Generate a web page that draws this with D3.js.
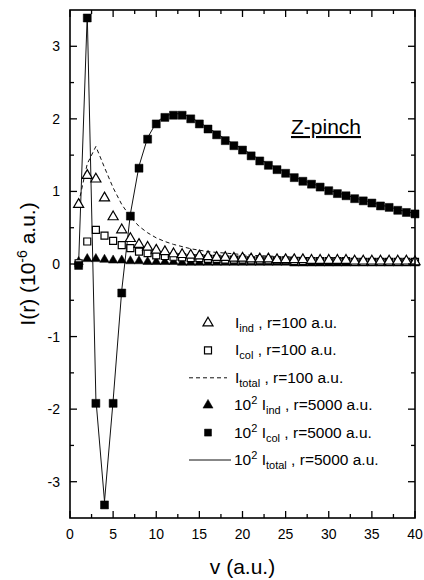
<!DOCTYPE html>
<html>
<head>
<meta charset="utf-8">
<script src="https://cdn.jsdelivr.net/npm/d3@7"></script>
<style>
  body { margin: 0; background: #fff; }
  svg { font-family: "Liberation Sans", Arial, sans-serif; }
</style>
</head>
<body>
<svg id="chart"></svg>
<script>
const W = 424
const H = 580

// v values (a.u.) for every series
const vValues = d3.range(1, 41)

// r = 100 a.u. (10^-6 a.u.)
const ind100 = [0.82, 1.22, 1.17, 0.91, 0.65, 0.47, 0.35, 0.27, 0.23, 0.19,
    0.17, 0.14, 0.13, 0.12, 0.11, 0.10, 0.09, 0.09, 0.08, 0.08,
    0.07, 0.07, 0.07, 0.06, 0.06, 0.06, 0.06, 0.05, 0.05, 0.05,
    0.05, 0.05, 0.04, 0.04, 0.04, 0.04, 0.04, 0.04, 0.04, 0.03]
const col100 = [0.01, 0.31, 0.47, 0.39, 0.32, 0.26, 0.22, 0.17, 0.15, 0.12,
    0.11, 0.10, 0.09, 0.08, 0.08, 0.07, 0.07, 0.06, 0.06, 0.06,
    0.05, 0.05, 0.05, 0.05, 0.05, 0.04, 0.04, 0.04, 0.04, 0.04,
    0.04, 0.04, 0.03, 0.03, 0.03, 0.03, 0.03, 0.03, 0.03, 0.03]
const total100 = [0.84, 1.38, 1.62, 1.33, 1.05, 0.82, 0.65, 0.52, 0.43, 0.36,
    0.31, 0.27, 0.24, 0.21, 0.19, 0.17, 0.16, 0.15, 0.14, 0.13,
    0.12, 0.115, 0.11, 0.105, 0.10, 0.095, 0.09, 0.088, 0.085, 0.082,
    0.08, 0.078, 0.075, 0.072, 0.07, 0.068, 0.066, 0.064, 0.062, 0.06]

// r = 5000 a.u., multiplied by 10^2
const ind5000 = [0.03, 0.07, 0.07, 0.06, 0.05, 0.05, 0.04, 0.04, 0.03, 0.03,
    0.03, 0.03, 0.02, 0.02, 0.02, 0.02, 0.02, 0.02, 0.02, 0.02,
    0.02, 0.02, 0.02, 0.02, 0.02, 0.01, 0.01, 0.01, 0.01, 0.01,
    0.01, 0.01, 0.01, 0.01, 0.01, 0.01, 0.01, 0.01, 0.01, 0.01]
const col5000 = [-0.02, 3.39, -1.92, -3.32, -1.92, -0.40, 0.66, 1.32, 1.72, 1.93,
    2.02, 2.05, 2.05, 2.00, 1.93, 1.86, 1.78, 1.70, 1.63, 1.57,
    1.49, 1.42, 1.36, 1.30, 1.25, 1.19, 1.14, 1.10, 1.06, 1.01,
    0.97, 0.94, 0.90, 0.87, 0.84, 0.80, 0.78, 0.74, 0.71, 0.69]
const total5000 = [0.01, 3.44, -1.86, -3.27, -1.88, -0.36, 0.69, 1.35, 1.74, 1.95,
    2.04, 2.07, 2.07, 2.02, 1.95, 1.88, 1.80, 1.72, 1.65, 1.59,
    1.51, 1.44, 1.38, 1.32, 1.27, 1.20, 1.15, 1.11, 1.07, 1.02,
    0.98, 0.95, 0.91, 0.88, 0.85, 0.81, 0.79, 0.75, 0.72, 0.70]

const xTicks = [0, 5, 10, 15, 20, 25, 30, 35, 40]
const yTicks = [-3, -2, -1, 0, 1, 2, 3]

// legend rows: prefix, subscript, suffix, symbol
const legendPrefix = ["", "", "", "10", "10", "10"]
const legendSub = ["ind", "col", "total", "ind", "col", "total"]
const legendSuffix = [" , r=100 a.u.", " , r=100 a.u.", " , r=100 a.u.",
    " , r=5000 a.u.", " , r=5000 a.u.", " , r=5000 a.u."]
const legendSymbol = ["openTri", "openSq", "dash", "fillTri", "fillSq", "solid"]

const margin = { left: 70, right: 9, top: 10, bottom: 62 }

const svg = d3.select('#chart')
    .attr('width', W)
    .attr('height', H)

const x = d3.scaleLinear()
    .domain([0, 40])
    .range([margin.left, W - margin.right])

const y = d3.scaleLinear()
    .domain([-3.5, 3.5])
    .range([H - margin.bottom, margin.top])

const plot = svg.append('g')

// series
const line = d3.line()
    .x(d => x(d[0]))
    .y(d => y(d[1]))

const pairs = arr => vValues.map((v, i) => [v, arr[i]])

plot.append('path')
    .datum(pairs(total100))
    .attr('d', line)
    .attr('fill', 'none')
    .attr('stroke', '#111')
    .attr('stroke-width', 1)
    .attr('stroke-dasharray', '4,3')

plot.append('path')
    .datum(pairs(total5000))
    .attr('d', line)
    .attr('fill', 'none')
    .attr('stroke', '#111')
    .attr('stroke-width', 1)

const triUp = d3.symbol().type(d3.symbolTriangle)
const sq = d3.symbol().type(d3.symbolSquare)

const drawMarkers = (arr, shape, size, filled) => {
    plot.append('g')
        .selectAll('path')
        .data(pairs(arr))
        .join('path')
        .attr('transform', d => `translate(${x(d[0])},${y(d[1])})`)
        .attr('d', shape.size(size)())
        .attr('fill', filled ? '#000' : '#fff')
        .attr('stroke', '#000')
        .attr('stroke-width', filled ? 0.5 : 1.2)
}

drawMarkers(ind5000, triUp, 38, true)
drawMarkers(col100, sq, 49, false)
drawMarkers(ind100, triUp, 44, false)
drawMarkers(col5000, sq, 64, true)

// frame + ticks (inward, all four sides)
const x0 = margin.left, x1 = W - margin.right
const yT = margin.top, yB = H - margin.bottom

const frame = svg.append('g')
frame.append('rect')
    .attr('x', x0).attr('y', yT)
    .attr('width', x1 - x0).attr('height', yB - yT)
    .attr('fill', 'none')
    .attr('stroke', '#000')
    .attr('stroke-width', 1.6)

const xMinor = d3.range(2.5, 40, 5)
const yMinor = d3.range(-2.5, 3.5, 1)

const tick = (ax, ay, bx, by) => frame.append('line')
    .attr('x1', ax).attr('y1', ay).attr('x2', bx).attr('y2', by)
    .attr('stroke', '#000').attr('stroke-width', 1.3)

xTicks.forEach(v => { tick(x(v), yB, x(v), yB - 7); tick(x(v), yT, x(v), yT + 7) })
xMinor.forEach(v => { tick(x(v), yB, x(v), yB - 4); tick(x(v), yT, x(v), yT + 4) })
yTicks.forEach(v => { tick(x0, y(v), x0 + 7, y(v)); tick(x1, y(v), x1 - 7, y(v)) })
yMinor.forEach(v => { tick(x0, y(v), x0 + 4, y(v)); tick(x1, y(v), x1 - 4, y(v)) })

// tick labels
svg.append('g')
    .selectAll('text')
    .data(xTicks)
    .join('text')
    .attr('x', d => x(d))
    .attr('y', yB + 21)
    .attr('text-anchor', 'middle')
    .attr('font-size', 14)
    .text(d => d)

svg.append('g')
    .selectAll('text')
    .data(yTicks)
    .join('text')
    .attr('x', x0 - 10)
    .attr('y', d => y(d) + 5)
    .attr('text-anchor', 'end')
    .attr('font-size', 14)
    .text(d => d)

// axis titles
svg.append('text')
    .attr('x', (x0 + x1) / 2)
    .attr('y', 574)
    .attr('text-anchor', 'middle')
    .attr('font-size', 21)
    .text('v (a.u.)')

const yTitle = svg.append('text')
    .attr('transform', `translate(35,${(yT + yB) / 2}) rotate(-90)`)
    .attr('text-anchor', 'middle')
    .attr('font-size', 21)
yTitle.append('tspan').text('I(r) (10')
yTitle.append('tspan').attr('font-size', 14).attr('dy', -8).text('-6')
yTitle.append('tspan').attr('dy', 8).text(' a.u.)')

// Z-pinch label
svg.append('text')
    .attr('x', 326)
    .attr('y', 134)
    .attr('text-anchor', 'middle')
    .attr('font-size', 21)
    .attr('text-decoration', 'underline')
    .text('Z-pinch')

// legend
const legend = svg.append('g')
const rowY = d3.range(6).map(i => 323 + i * 27.4)
legendSymbol.forEach((s, i) => {
    const ry = rowY[i]
    if (s === 'dash' || s === 'solid') {
        legend.append('line')
            .attr('x1', 189).attr('x2', s === 'dash' ? 227 : 231)
            .attr('y1', ry).attr('y2', ry)
            .attr('stroke', '#111').attr('stroke-width', 1)
            .attr('stroke-dasharray', s === 'dash' ? '4,3' : null)
    } else {
        const isTri = s.endsWith('Tri')
        legend.append('path')
            .attr('transform', `translate(208,${ry})`)
            .attr('d', (isTri ? triUp : sq).size(isTri ? 44 : 49)())
            .attr('fill', s.startsWith('fill') ? '#000' : '#fff')
            .attr('stroke', '#000')
            .attr('stroke-width', s.startsWith('fill') ? 0.5 : 1.2)
    }
    const t = legend.append('text')
        .attr('x', legendPrefix[i] ? 234 : 235)
        .attr('y', ry + 5)
        .attr('font-size', 15.5)
    if (legendPrefix[i]) {
        t.append('tspan').text(legendPrefix[i])
        t.append('tspan').attr('font-size', 11).attr('dy', -6).text('2')
        t.append('tspan').attr('dy', 6).text('\u00a0I')
    } else {
        t.append('tspan').text('I')
    }
    t.append('tspan').attr('font-size', 11).attr('dy', 4).text(legendSub[i])
    t.append('tspan').attr('dy', -4).text(legendSuffix[i])
})
</script>
</body>
</html>
